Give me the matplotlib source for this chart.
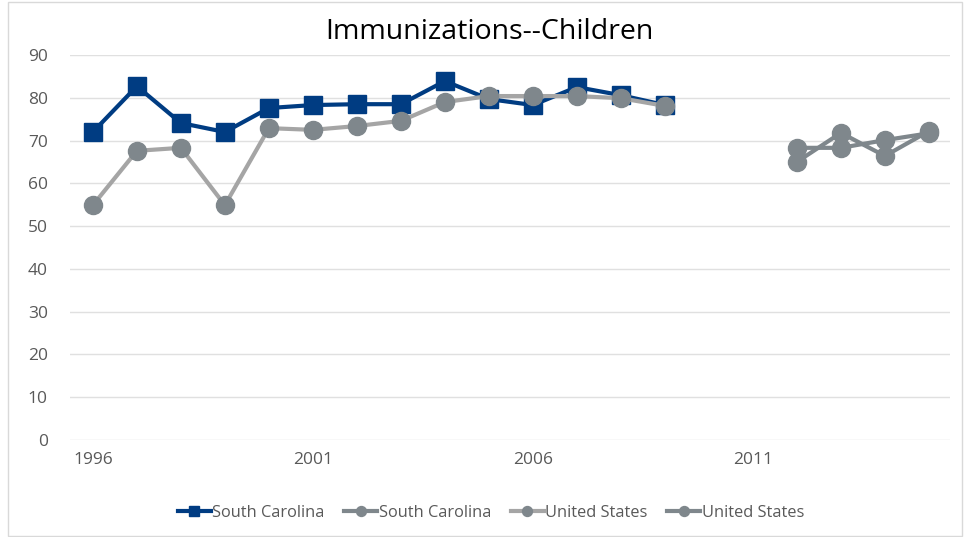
import matplotlib
matplotlib.use("Agg")
import matplotlib.pyplot as plt
from matplotlib.patches import Rectangle

plt.rcParams['font.family'] = ['Open Sans', 'DejaVu Sans']

years = list(range(1996, 2016))
sc_early = [72.0, 82.7, 74.1, 72.0, 77.6, 78.3, 78.5, 78.5, 83.9, 79.7, 78.3, 82.5, 80.6, 78.3]
us_early = [54.9, 67.6, 68.3, 54.9, 72.9, 72.5, 73.4, 74.6, 79.0, 80.4, 80.4, 80.4, 79.9, 78.1]
late_years = [2012, 2013, 2014, 2015]
sc_late = [65.0, 71.8, 66.4, 72.2]
us_late = [68.3, 68.3, 70.1, 71.7]
early_years = years[:14]
xtick_years = [1996, 2001, 2006, 2011]
yticks = list(range(0, 100, 10))

fig = plt.figure(figsize=(9.66, 5.37), dpi=100)
W, H = 966, 537
ax = fig.add_axes([70 / W, 1 - 440 / H, (950 - 70) / W, (440 - 55) / H])

blue = '#003C82'
gray_marker = '#7F878C'
light_line = '#A5A5A5'

l1, = ax.plot(early_years, sc_early, color=blue, lw=3, marker='s', ms=13,
              mfc=blue, mec=blue, label='South Carolina', zorder=4)
l2, = ax.plot(late_years, sc_late, color=gray_marker, lw=3, marker='o', ms=13,
              mfc=gray_marker, mec=gray_marker, label='South Carolina', zorder=3)
l3, = ax.plot(early_years, us_early, color=light_line, lw=3, marker='o', ms=13,
              mfc=gray_marker, mec=gray_marker, label='United States', zorder=5)
l4, = ax.plot(late_years, us_late, color=gray_marker, lw=3, marker='o', ms=13,
              mfc=gray_marker, mec=gray_marker, label='United States', zorder=3)

ax.set_xlim(1995.48, 2015.48)
ax.set_ylim(0, 90)
ax.set_yticks(yticks)
ax.set_xticks(xtick_years)
ax.set_xticklabels([str(y) for y in xtick_years])
ax.grid(axis='y', color='#E0E0E0', lw=1)
ax.set_axisbelow(True)
for s in ax.spines.values():
    s.set_visible(False)
ax.tick_params(axis='both', length=0, labelsize=12.5, labelcolor='#595959')
ax.tick_params(axis='y', pad=16)
ax.tick_params(axis='x', pad=9)

fig.text(489 / W, 1 - 32 / H, 'Immunizations--Children', ha='center', va='center',
         fontsize=20.5, color='#000000')

leg = fig.legend(handles=[l1, l2, l3, l4], loc='center', bbox_to_anchor=(491 / W, 1 - 513 / H),
                 ncol=4, frameon=False, fontsize=11.8, handlelength=2.0, handletextpad=0.1,
                 columnspacing=1.2, markerscale=0.55, labelcolor='#595959')

fig.patches.append(Rectangle((8 / W, 1 / H), (962 - 8) / W, (535 - 1) / H,
                             transform=fig.transFigure, fill=False, edgecolor='#D9D9D9', lw=1))

fig.savefig('out.png', dpi=100)
